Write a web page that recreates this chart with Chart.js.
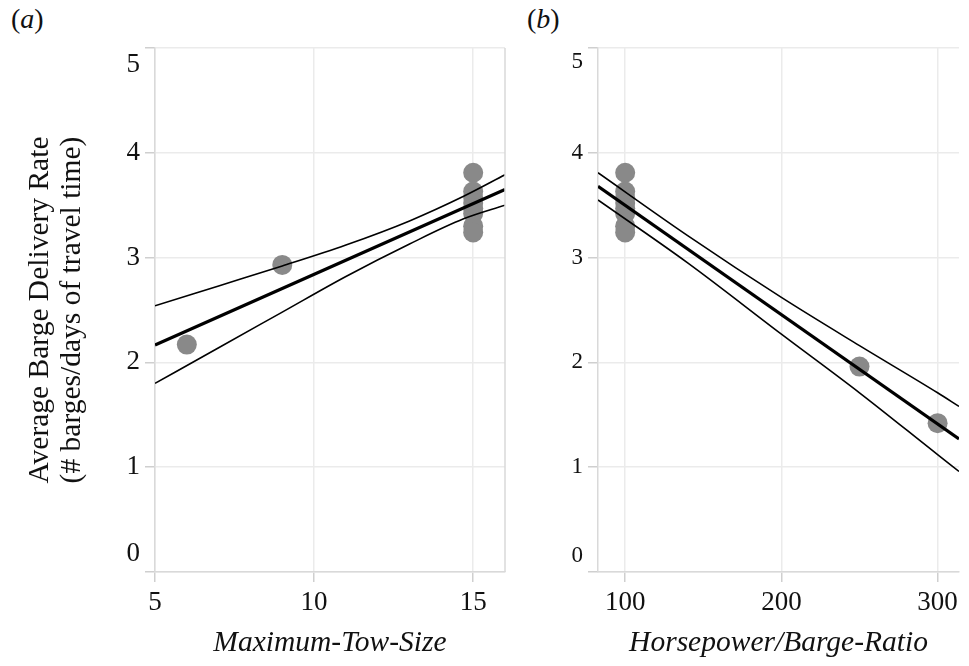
<!DOCTYPE html>
<html lang="en">
  <head>
    <meta charset="UTF-8" />
    <title>Average Barge Delivery Rate</title>
    <script src="https://cdn.jsdelivr.net/npm/chart.js"></script>
    <style>
      body {
        margin: 0;
        background: #fff;
        width: 969px;
        height: 666px;
        position: relative;
        overflow: hidden;
        font-family: "Liberation Serif", serif;
      }
      canvas { position: absolute; top: 0; }
      #chartA { left: 0; }
      #chartB { left: 515px; }
      .panel { position: absolute; top: 3px; font-size: 28px; color: #111; }
    </style>
  </head>
  <body>
    <div class="panel" style="left: 11px">(<i>a</i>)</div>
    <div class="panel" style="left: 527px">(<i>b</i>)</div>
    <canvas id="chartA" width="515" height="666"></canvas>
    <canvas id="chartB" width="454" height="666"></canvas>

    <script>
      // panel (a): rate vs maximum tow size
      const towSize = [6, 9, 15, 15, 15, 15, 15, 15, 15, 15];
      const rateA = [2.17, 2.93, 3.81, 3.63, 3.57, 3.52, 3.47, 3.42, 3.30, 3.24];
      const fitXA = [5, 16];
      const fitA = [2.165, 3.65];
      const ciXA = [5, 7, 9, 11, 13, 14.7, 16];
      const upperA = [2.54, 2.73, 2.92, 3.12, 3.35, 3.585, 3.79];
      const lowerA = [1.80, 2.14, 2.48, 2.82, 3.13, 3.37, 3.50];

      // panel (b): rate vs horsepower / barge ratio
      const hpRatio = [250, 300, 100, 100, 100, 100, 100, 100, 100, 100];
      const rateB = [1.96, 1.42, 3.81, 3.63, 3.57, 3.52, 3.47, 3.42, 3.30, 3.24];
      const fitXB = [82.6, 313.7];
      const fitB = [3.68, 1.27];
      const ciXB = [82.6, 140, 200, 250, 300, 313.7];
      const upperB = [3.81, 3.21, 2.62, 2.16, 1.71, 1.58];
      const lowerB = [3.55, 2.95, 2.27, 1.71, 1.12, 0.96];

      // ticks
      const xTicksA = [5, 10, 15];
      const xTicksB = [100, 200, 300];
      const yTicks = [0, 1, 2, 3, 4, 5];

      const SERIF = "'Liberation Serif', 'Times New Roman', serif";
      const GRID = "#ebebeb";
      const AXIS = "#d9d9d9";
      const TICK = "#cfcfcf";

      const pts = (xs, ys) => xs.map((x, i) => ({ x: x, y: ys[i] }));

      // end labels (0 and 5) sit inside the axis range, plus a frame on the right
      const edgeLabels = {
        id: "edgeLabels",
        afterDraw(chart, args, opts) {
          const ctx = chart.ctx;
          const y = chart.scales.y;
          const area = chart.chartArea;
          ctx.save();
          ctx.font = opts.size + "px " + SERIF;
          ctx.fillStyle = "#111";
          ctx.textAlign = "right";
          ctx.textBaseline = "middle";
          const lx = area.left - 15;
          ctx.fillText("5", lx, y.getPixelForValue(5) + opts.size * 0.62);
          ctx.fillText("0", lx, y.getPixelForValue(0) - opts.size * 0.68);
          if (opts.rightBorder) {
            ctx.strokeStyle = AXIS;
            ctx.lineWidth = 1.5;
            ctx.beginPath();
            ctx.moveTo(area.right, area.top);
            ctx.lineTo(area.right, area.bottom);
            ctx.stroke();
          }
          ctx.restore();
        },
      };

      function makeChart(id, cfg) {
        const lines = [
          { data: pts(cfg.fitX, cfg.fit), borderWidth: 3.2 },
          { data: pts(cfg.ciX, cfg.upper), borderWidth: 1.6 },
          { data: pts(cfg.ciX, cfg.lower), borderWidth: 1.6 },
        ].map((d) => ({
          data: d.data,
          showLine: true,
          borderColor: "#000",
          borderWidth: d.borderWidth,
          pointRadius: 0,
          cubicInterpolationMode: "monotone",
          order: 1,
        }));

        return new Chart(document.getElementById(id), {
          type: "scatter",
          data: {
            datasets: [
              ...lines,
              {
                data: pts(cfg.x, cfg.y),
                pointRadius: 10,
                pointHoverRadius: 10,
                backgroundColor: "#898989",
                borderWidth: 0,
                order: 2,
              },
            ],
          },
          options: {
            responsive: false,
            animation: false,
            events: [],
            layout: { padding: { top: 48, right: cfg.padRight, bottom: 0, left: 0 } },
            plugins: {
              legend: { display: false },
              tooltip: { enabled: false },
              edgeLabels: { size: cfg.ySize, rightBorder: cfg.rightBorder },
            },
            scales: {
              x: {
                type: "linear",
                min: cfg.xMin,
                max: cfg.xMax,
                afterBuildTicks: (s) => { s.ticks = cfg.xTicks.map((v) => ({ value: v })); },
                afterFit: (s) => { s.height = 94; },
                grid: { color: GRID, tickColor: TICK, tickLength: 10, lineWidth: 1.5 },
                border: { color: AXIS, width: 1.5 },
                ticks: {
                  color: "#111",
                  padding: 5,
                  maxRotation: 0,
                  font: { family: SERIF, size: 27 },
                },
                title: {
                  display: true,
                  text: cfg.xTitle,
                  color: "#111",
                  padding: { top: 0, bottom: 7 },
                  font: { family: SERIF, size: 29.5, style: "italic", lineHeight: 1.1 },
                },
              },
              y: {
                min: 0,
                max: 5,
                afterBuildTicks: (s) => { s.ticks = yTicks.map((v) => ({ value: v })); },
                afterFit: (s) => { s.width = cfg.yWidth; },
                grid: { color: GRID, tickColor: TICK, tickLength: 10, lineWidth: 1.5 },
                border: { color: AXIS, width: 1.5 },
                ticks: {
                  padding: 5,
                  color: (c) => (c.tick.value === 0 || c.tick.value === 5 ? "rgba(0,0,0,0)" : "#111"),
                  font: { family: SERIF, size: cfg.ySize },
                },
                title: {
                  display: !!cfg.yTitle,
                  text: cfg.yTitle,
                  color: "#111",
                  padding: { top: 24, bottom: 0 },
                  font: { family: SERIF, size: 29.5, lineHeight: 1.1 },
                },
              },
            },
          },
          plugins: [edgeLabels],
        });
      }

      makeChart("chartA", {
        x: towSize, y: rateA,
        fitX: fitXA, fit: fitA, ciX: ciXA, upper: upperA, lower: lowerA,
        xMin: 5, xMax: 16, xTicks: xTicksA,
        xTitle: "Maximum-Tow-Size",
        yTitle: ["Average Barge Delivery Rate", "(# barges/days of travel time)"],
        yWidth: 155, ySize: 27, padRight: 8, rightBorder: true,
      });

      makeChart("chartB", {
        x: hpRatio, y: rateB,
        fitX: fitXB, fit: fitB, ciX: ciXB, upper: upperB, lower: lowerB,
        xMin: 82.6, xMax: 313.7, xTicks: xTicksB,
        xTitle: "Horsepower/Barge-Ratio",
        yTitle: null,
        yWidth: 83, ySize: 23, padRight: 0, rightBorder: false,
      });
    </script>
  </body>
</html>
